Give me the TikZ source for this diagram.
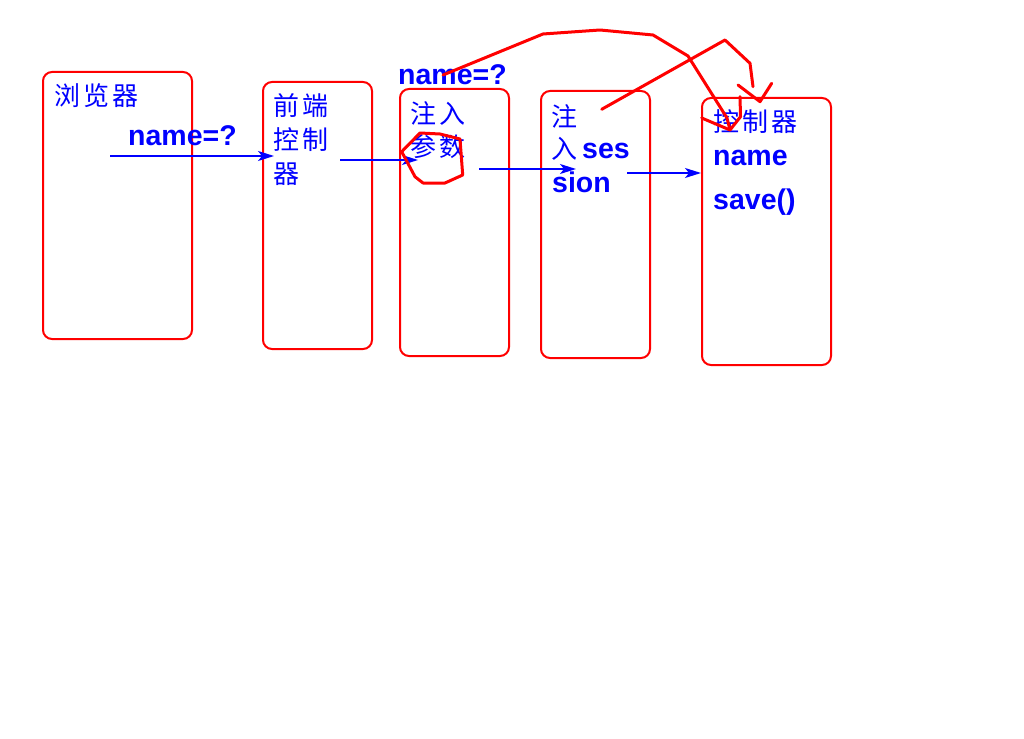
\documentclass[tikz,border=0pt]{standalone}
\usepackage{fontspec}
\setmainfont{Liberation Sans}
\newfontfamily\cjk[LetterSpace=12]{Noto Sans CJK SC}
\usetikzlibrary{arrows.meta}
\definecolor{pblue}{RGB}{0,0,255}
\definecolor{pred}{RGB}{255,0,0}
\tikzset{
  box/.style={draw=pred, line width=2pt, rounded corners=9pt, anchor=north west, inner sep=0pt},
  cjktxt/.style={text=pblue, font=\cjk\fontsize{26}{26}\selectfont, anchor=west, inner sep=0pt},
  lattxt/.style={text=pblue, font=\bfseries\fontsize{28.5}{28.5}\selectfont, anchor=base west, inner sep=0pt},
  flow/.style={draw=pblue, line width=1.4pt, -{Stealth[length=16pt,width=10pt,inset=4pt]}},
  scribble/.style={draw=pred, line width=3pt, line join=round, line cap=round},
}
\begin{document}
\begin{tikzpicture}[x=1pt,y=-1pt]
\useasboundingbox (0,0) rectangle (1024,738);
\fill[white] (0,0) rectangle (1024,738);
% boxes
\node[box, minimum width=149pt, minimum height=267pt] (b1) at (42,71) {};
\node[box, minimum width=109pt, minimum height=267pt] (b2) at (262,81) {};
\node[box, minimum width=109pt, minimum height=267pt] (b3) at (399,88) {};
\node[box, minimum width=109pt, minimum height=267pt] (b4) at (540,90) {};
\node[box, minimum width=129pt, minimum height=267pt] (b5) at (701,97) {};
% texts
\node[cjktxt] (t1) at (54,96) {浏览器};
\node[lattxt] (q1) at (128,146) {name=?};
\node[cjktxt] (t2a) at (273,106) {前端};
\node[cjktxt] (t2b) at (273,140) {控制};
\node[cjktxt] (t2c) at (273,174) {器};
\node[lattxt] (q2) at (398,85) {name=?};
\node[cjktxt] (t3a) at (410,113) {注入};
\node[cjktxt] (t3b) at (410,147) {参数};
\node[cjktxt] (t4a) at (551,116) {注};
\node[cjktxt] (t4b) at (551,149) {入};
\node[lattxt] (t4c) at (582,159) {ses};
\node[lattxt] (t4d) at (552,192) {sion};
\node[cjktxt] (t5a) at (713,122) {控制器};
\node[lattxt] (t5b) at (713,166) {name};
\node[lattxt] (t5c) at (713,209) {save()};
% flow arrows
\coordinate (a1s) at (110,156); \coordinate (a1e) at (274,156);
\coordinate (a2s) at (340,160); \coordinate (a2e) at (418,160);
\coordinate (a3s) at (479,169); \coordinate (a3e) at (576,169);
\coordinate (a4s) at (627,173); \coordinate (a4e) at (701,173);
\draw[flow] (a1s) -- (a1e);
\draw[flow] (a2s) -- (a2e);
\draw[flow] (a3s) -- (a3e);
\draw[flow] (a4s) -- (a4e);
% red freehand marks
\draw[scribble] (401.7,151.7) -- (420,133) -- (440,134) -- (460,139) -- (462.7,175) -- (445,183) -- (423,183) -- (415,176.7) -- cycle;
\draw[scribble] (443,75) -- (543,34) -- (600,30) -- (653,35) -- (688,56) -- (727,118) -- (730,130);
\draw[scribble] (701.7,118) -- (730,130) -- (740.5,116.7) -- (740,96.7);
\draw[scribble] (601.7,109.3) -- (725,40) -- (750,63.3) -- (753,86.7);
\draw[scribble] (738,85) -- (760,101.7) -- (771.7,83.3);
\end{tikzpicture}
\end{document}
